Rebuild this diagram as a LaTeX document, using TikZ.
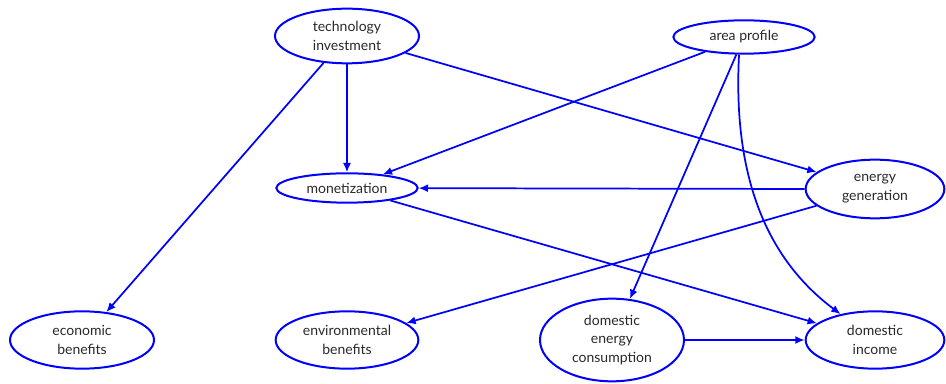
\documentclass[tikz,border=0pt]{standalone}
\usepackage{fontspec}
\setmainfont{Lato}
\usepackage{xcolor}
\usepackage{tikz}
\usetikzlibrary{shapes.geometric, arrows.meta}

\definecolor{edgeblue}{RGB}{0,0,255}
\definecolor{txtgray}{RGB}{40,40,40}

\tikzset{
  var/.style={ellipse, draw=edgeblue, line width=1.5pt, inner sep=0pt,
    text=txtgray, align=center, font=\fontsize{10.5}{14}\selectfont},
  link/.style={draw=edgeblue, line width=1.3pt, -{Latex[length=7pt,width=6pt]}}
}

\begin{document}
\begin{tikzpicture}[x=0.75pt,y=0.75pt,yscale=-1,xscale=1]
\useasboundingbox (0,0) rectangle (946,384);

% Nodes
\node[var, minimum width=108pt, minimum height=41pt] (tech) at (347,36) {technology\\investment};
\node[var, minimum width=106pt, minimum height=25pt] (area) at (744,37) {area profile};
\node[var, minimum width=106pt, minimum height=22pt] (money) at (347,188) {monetization};
\node[var, minimum width=104pt, minimum height=44pt] (energy) at (875,189) {energy\\generation};
\node[var, minimum width=108pt, minimum height=43pt] (econ) at (82,340) {economic\\benefits};
\node[var, minimum width=107pt, minimum height=43pt] (env) at (347,340) {environmental\\benefits};
\node[var, minimum width=108pt, minimum height=62pt] (cons) at (612,340) {domestic\\energy\\consumption};
\node[var, minimum width=104pt, minimum height=43pt] (income) at (875,340) {domestic\\income};
\coordinate (aout) at (739,55);

% Connectors
\draw[link] (tech) -- (econ);
\draw[link] (tech) -- (money);
\draw[link] (tech) -- (energy);
\draw[link] (area) -- (money);
\draw[link] (area) -- (cons);
\draw[link] (aout) .. controls (732,190) and (775,265) .. (income);
\draw[link] (energy.west) -- (money);
\draw[link] (energy) -- (env);
\draw[link] (money) -- (income);
\draw[link] (cons) -- (income);

\end{tikzpicture}
\end{document}
